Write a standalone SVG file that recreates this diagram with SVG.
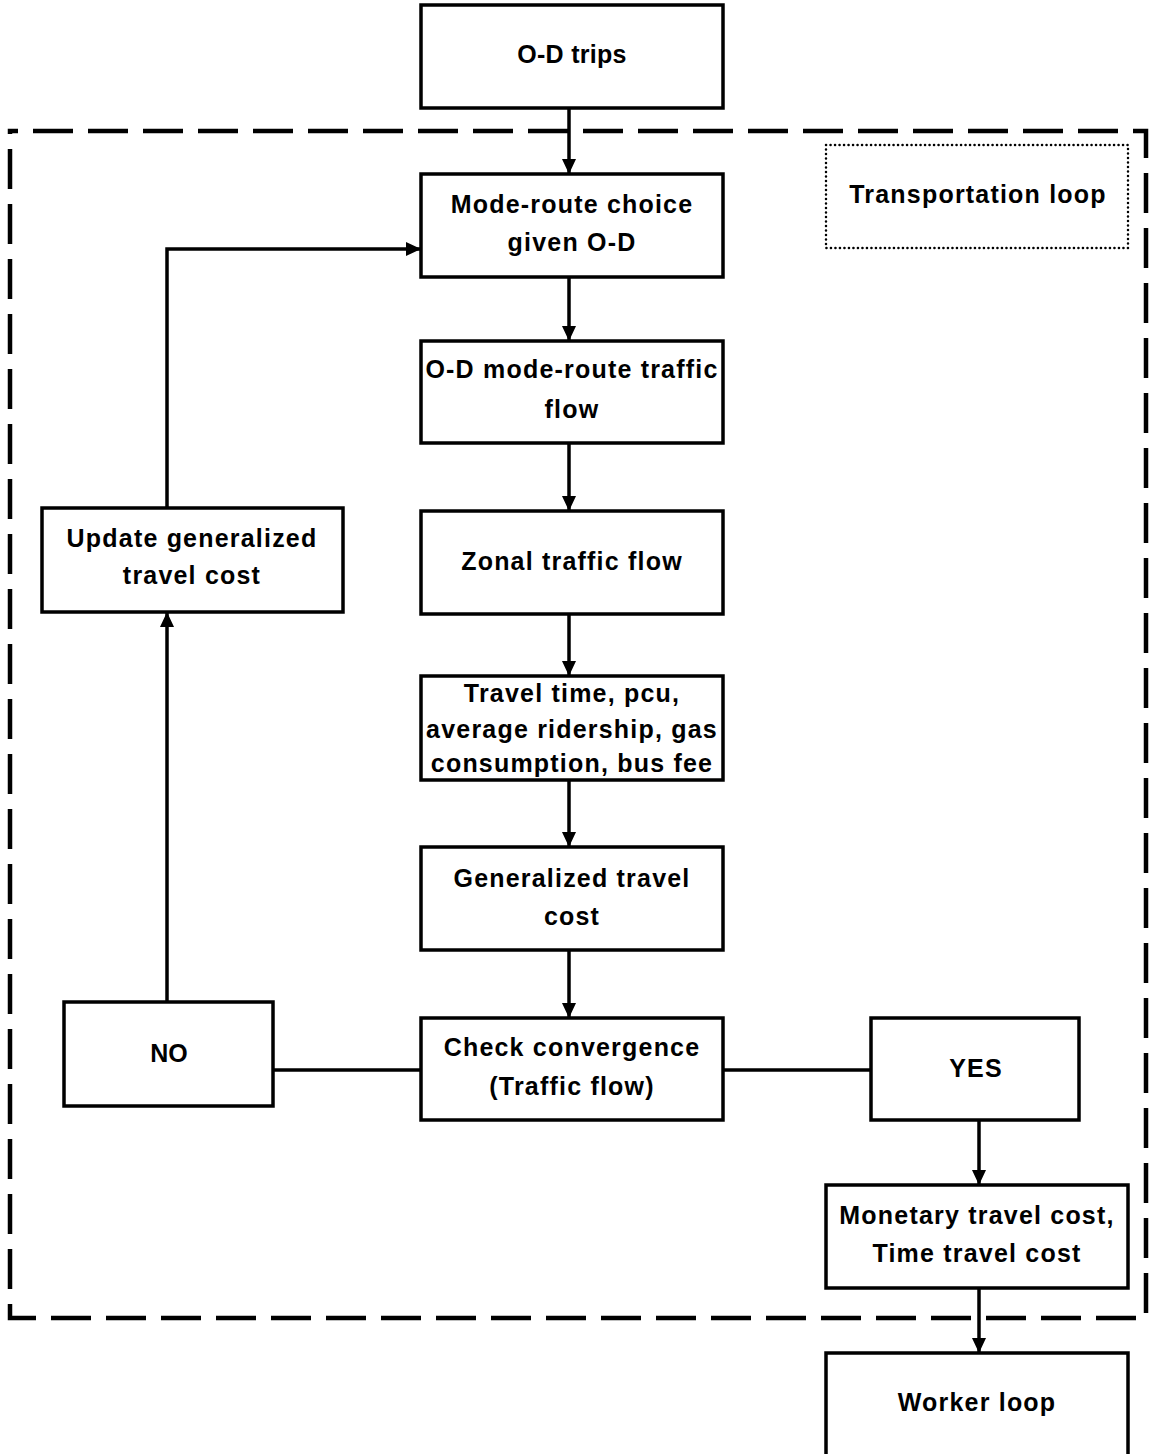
<svg xmlns="http://www.w3.org/2000/svg" width="1149" height="1454" viewBox="0 0 1149 1454">
<style>
.box{fill:#fff;stroke:#000;stroke-width:3.5}
.t{font-family:"Liberation Sans",Arial,sans-serif;font-weight:bold;font-size:25px;letter-spacing:1.2px;text-anchor:middle;fill:#000}
.c{fill:none;stroke:#000;stroke-width:3.5}
.ca{fill:none;stroke:#000;stroke-width:3.5;marker-end:url(#ah)}
</style>
<defs>
<marker id="ah" markerUnits="userSpaceOnUse" markerWidth="16" markerHeight="14" refX="15" refY="7" orient="auto">
<path d="M0,0 L15,7 L0,14 z" fill="#000"/>
</marker>
</defs>
<rect width="1149" height="1454" fill="#fff"/>
<g id="loop-border">
<path d="M10,131 H1146 V1318 H10 Z" fill="none" stroke="#000" stroke-width="4.5" stroke-dasharray="40 15" stroke-dashoffset="32"/>
</g>
<g id="connectors">
<line class="ca" x1="569" y1="108" x2="569" y2="174"/>
<line class="ca" x1="569" y1="277" x2="569" y2="341"/>
<line class="ca" x1="569" y1="443" x2="569" y2="511"/>
<line class="ca" x1="569" y1="614" x2="569" y2="676"/>
<line class="ca" x1="569" y1="780" x2="569" y2="847"/>
<line class="ca" x1="569" y1="950" x2="569" y2="1018"/>
<line class="c" x1="273" y1="1070" x2="421" y2="1070"/>
<line class="c" x1="723" y1="1070" x2="871" y2="1070"/>
<line class="ca" x1="167" y1="1002" x2="167" y2="612"/>
<polyline class="ca" points="167,508 167,249 421,249"/>
<line class="ca" x1="979" y1="1120" x2="979" y2="1185"/>
<line class="ca" x1="979" y1="1288" x2="979" y2="1353"/>
</g>
<g id="od-trips">
<rect class="box" x="421" y="5" width="302" height="103"/>
<text class="t" x="572" y="63" style="letter-spacing:0.3px">O-D trips</text>
</g>
<g id="transport-loop-label">
<rect x="826" y="145" width="302" height="103" fill="none" stroke="#000" stroke-width="2.5" stroke-linecap="round" stroke-dasharray="0.1 4.4"/>
<text class="t" x="978" y="203">Transportation loop</text>
</g>
<g id="mode-route">
<rect class="box" x="421" y="174" width="302" height="103"/>
<text class="t" x="572" y="213">Mode-route choice</text>
<text class="t" x="572" y="251">given O-D</text>
</g>
<g id="od-flow">
<rect class="box" x="421" y="341" width="302" height="102"/>
<text class="t" x="572" y="378">O-D mode-route traffic</text>
<text class="t" x="572" y="418">flow</text>
</g>
<g id="zonal">
<rect class="box" x="421" y="511" width="302" height="103"/>
<text class="t" x="572" y="570">Zonal traffic flow</text>
</g>
<g id="travel-time">
<rect class="box" x="421" y="676" width="302" height="104"/>
<text class="t" x="572" y="702">Travel time, pcu,</text>
<text class="t" x="572" y="738">average ridership, gas</text>
<text class="t" x="572" y="772">consumption, bus fee</text>
</g>
<g id="gen-cost">
<rect class="box" x="421" y="847" width="302" height="103"/>
<text class="t" x="572" y="887">Generalized travel</text>
<text class="t" x="572" y="925">cost</text>
</g>
<g id="check">
<rect class="box" x="421" y="1018" width="302" height="102"/>
<text class="t" x="572" y="1056">Check convergence</text>
<text class="t" x="572" y="1095">(Traffic flow)</text>
</g>
<g id="no">
<rect class="box" x="64" y="1002" width="209" height="104"/>
<text class="t" x="169" y="1062" style="letter-spacing:0">NO</text>
</g>
<g id="yes">
<rect class="box" x="871" y="1018" width="208" height="102"/>
<text class="t" x="976" y="1077">YES</text>
</g>
<g id="update">
<rect class="box" x="42" y="508" width="301" height="104"/>
<text class="t" x="192" y="547">Update generalized</text>
<text class="t" x="192" y="584">travel cost</text>
</g>
<g id="monetary">
<rect class="box" x="826" y="1185" width="302" height="103"/>
<text class="t" x="977" y="1224">Monetary travel cost,</text>
<text class="t" x="977" y="1262">Time travel cost</text>
</g>
<g id="worker">
<rect class="box" x="826" y="1353" width="302" height="110"/>
<text class="t" x="977" y="1411">Worker loop</text>
</g>
</svg>
